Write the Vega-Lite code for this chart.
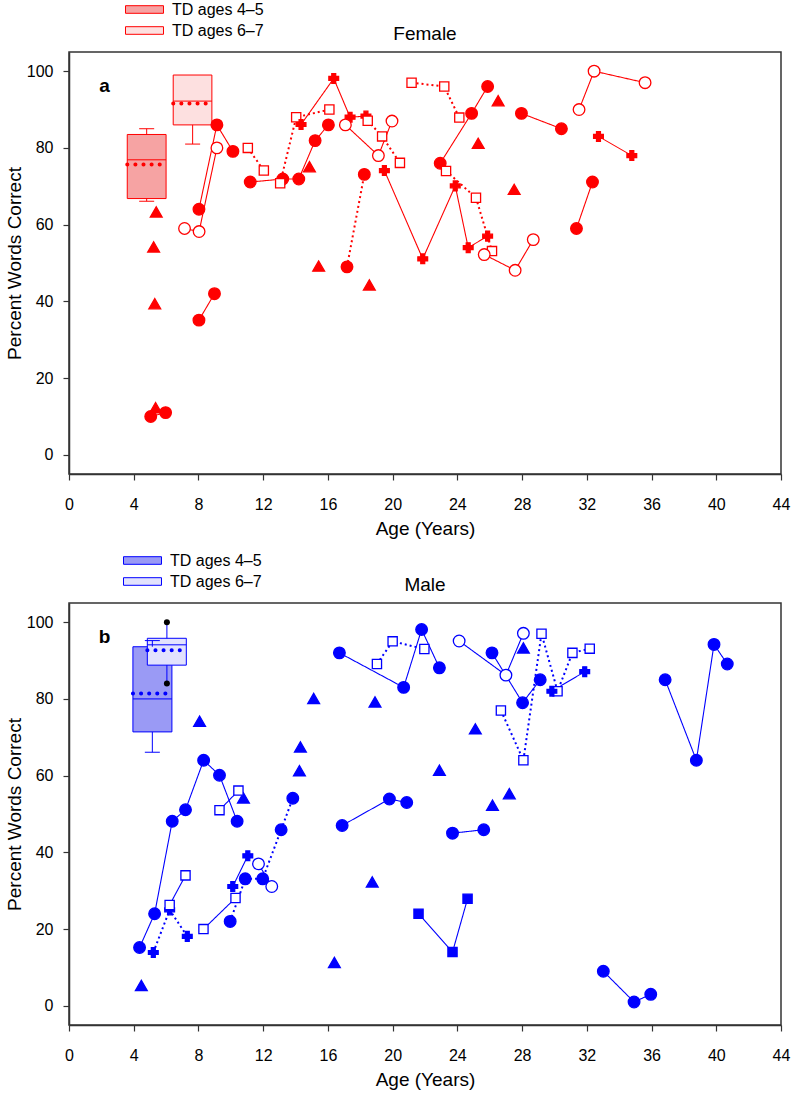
{
  "$schema": "https://vega.github.io/schema/vega-lite/v6.json",
  "padding": {"left": 4, "top": 0, "right": 8, "bottom": 0},
  "spacing": 12,
  "config": {
    "font": "Liberation Sans",
    "view": {"stroke": "#333333", "strokeWidth": 1.5},
    "axis": {"domainColor": "#333333", "domainWidth": 1.5, "tickColor": "#333333", "tickWidth": 1.2, "tickSize": 6, "labelFont": "Liberation Sans", "labelFontSize": 16, "labelColor": "#000000", "titleFont": "Liberation Sans", "titleFontSize": 19, "titleFontWeight": "normal", "titleColor": "#000000", "grid": false},
    "title": {"font": "Liberation Sans", "fontSize": 19, "fontWeight": "normal", "anchor": "middle", "offset": -43, "color": "#000000"}
  },
  "resolve": {"scale": {"fill": "independent", "x": "independent", "y": "independent", "shape": "independent", "strokeDash": "independent"}, "legend": {"fill": "independent"}},
  "datasets": {
    "box": [
      {"p": "F", "g": "TD ages 4–5", "x0": 3.6, "x1": 6.0, "q1": 66.8, "q3": 83.5, "med": 76.9, "mean": 75.7},
      {"p": "F", "g": "TD ages 6–7", "x0": 6.44, "x1": 8.83, "q1": 86, "q3": 99, "med": 92.2, "mean": 91.6},
      {"p": "M", "g": "TD ages 4–5", "x0": 3.95, "x1": 6.36, "q1": 71.4, "q3": 93.6, "med": 80, "mean": 81.4},
      {"p": "M", "g": "TD ages 6–7", "x0": 4.84, "x1": 7.25, "q1": 88.8, "q3": 95.8, "med": 94.1, "mean": 92.7}
    ],
    "whisk": [
      {"p": "F", "xc": 4.8, "y0": 83.5, "y1": 85},
      {"p": "F", "xc": 4.8, "y0": 66.8, "y1": 66.1},
      {"p": "F", "xc": 7.64, "y0": 86, "y1": 81},
      {"p": "M", "xc": 5.15, "y0": 93.6, "y1": 95.2},
      {"p": "M", "xc": 5.15, "y0": 71.4, "y1": 66.1},
      {"p": "M", "xc": 6.05, "y0": 95.8, "y1": 100},
      {"p": "M", "xc": 6.05, "y0": 88.8, "y1": 84}
    ],
    "caps": [
      {"p": "F", "xc": 4.8, "y": 85},
      {"p": "F", "xc": 4.8, "y": 66.1},
      {"p": "F", "xc": 7.64, "y": 81},
      {"p": "M", "xc": 5.15, "y": 95.2},
      {"p": "M", "xc": 5.15, "y": 66.1}
    ],
    "outl": [
      {"p": "M", "x": 6.05, "y": 100},
      {"p": "M", "x": 6.05, "y": 84}
    ],
    "pts": [
      {"p": "F", "s": null, "x": 5.39, "y": 63.3, "shape": "triangle-up", "fill": "filled", "link": "none"},
      {"p": "F", "s": null, "x": 5.23, "y": 54.2, "shape": "triangle-up", "fill": "filled", "link": "none"},
      {"p": "F", "s": null, "x": 5.3, "y": 39.4, "shape": "triangle-up", "fill": "filled", "link": "none"},
      {"p": "F", "s": null, "x": 5.35, "y": 12.3, "shape": "triangle-up", "fill": "filled", "link": "none"},
      {"p": "F", "s": null, "x": 14.86, "y": 75.1, "shape": "triangle-up", "fill": "filled", "link": "none"},
      {"p": "F", "s": null, "x": 15.43, "y": 49.2, "shape": "triangle-up", "fill": "filled", "link": "none"},
      {"p": "F", "s": null, "x": 18.56, "y": 44.3, "shape": "triangle-up", "fill": "filled", "link": "none"},
      {"p": "F", "s": null, "x": 25.29, "y": 81.2, "shape": "triangle-up", "fill": "filled", "link": "none"},
      {"p": "F", "s": null, "x": 26.52, "y": 92.3, "shape": "triangle-up", "fill": "filled", "link": "none"},
      {"p": "F", "s": null, "x": 27.51, "y": 69.2, "shape": "triangle-up", "fill": "filled", "link": "none"},
      {"p": "F", "s": "f1", "x": 5.05, "y": 10, "shape": "circle", "fill": "filled", "link": "solid"},
      {"p": "F", "s": "f1", "x": 5.97, "y": 11, "shape": "circle", "fill": "filled", "link": "solid"},
      {"p": "F", "s": "f2", "x": 8.03, "y": 35.1, "shape": "circle", "fill": "filled", "link": "solid"},
      {"p": "F", "s": "f2", "x": 8.99, "y": 42, "shape": "circle", "fill": "filled", "link": "solid"},
      {"p": "F", "s": "f3", "x": 8.03, "y": 64, "shape": "circle", "fill": "filled", "link": "solid"},
      {"p": "F", "s": "f3", "x": 9.14, "y": 86, "shape": "circle", "fill": "filled", "link": "solid"},
      {"p": "F", "s": "f3", "x": 10.13, "y": 79.1, "shape": "circle", "fill": "filled", "link": "solid"},
      {"p": "F", "s": "f4", "x": 7.14, "y": 59, "shape": "circle", "fill": "open", "link": "solid"},
      {"p": "F", "s": "f4", "x": 8.04, "y": 58.2, "shape": "circle", "fill": "open", "link": "solid"},
      {"p": "F", "s": "f4", "x": 9.14, "y": 80, "shape": "circle", "fill": "open", "link": "solid"},
      {"p": "F", "s": "f5", "x": 11.05, "y": 80, "shape": "square", "fill": "open", "link": "dotted"},
      {"p": "F", "s": "f5", "x": 12.04, "y": 74.1, "shape": "square", "fill": "open", "link": "dotted"},
      {"p": "F", "s": "f6", "x": 11.2, "y": 71.1, "shape": "circle", "fill": "filled", "link": "solid"},
      {"p": "F", "s": "f6", "x": 13.21, "y": 71.9, "shape": "circle", "fill": "filled", "link": "solid"},
      {"p": "F", "s": "f6", "x": 14.2, "y": 71.9, "shape": "circle", "fill": "filled", "link": "solid"},
      {"p": "F", "s": "f6", "x": 15.21, "y": 81.9, "shape": "circle", "fill": "filled", "link": "solid"},
      {"p": "F", "s": "f6", "x": 16.03, "y": 86, "shape": "circle", "fill": "filled", "link": "solid"},
      {"p": "F", "s": "f7", "x": 13.05, "y": 70.8, "shape": "square", "fill": "open", "link": "dotted"},
      {"p": "F", "s": "f7", "x": 14.04, "y": 88, "shape": "square", "fill": "open", "link": "dotted"},
      {"p": "F", "s": "f7", "x": 16.09, "y": 90, "shape": "square", "fill": "open", "link": "dotted"},
      {"p": "F", "s": "f8", "x": 14.34, "y": 86.1, "shape": "cross", "fill": "filled", "link": "solid"},
      {"p": "F", "s": "f8", "x": 16.36, "y": 98.1, "shape": "cross", "fill": "filled", "link": "solid"},
      {"p": "F", "s": "f8", "x": 17.37, "y": 88, "shape": "cross", "fill": "filled", "link": "solid"},
      {"p": "F", "s": "f8", "x": 18.35, "y": 88.3, "shape": "cross", "fill": "filled", "link": "solid"},
      {"p": "F", "s": "f9", "x": 17.08, "y": 86, "shape": "circle", "fill": "open", "link": "solid"},
      {"p": "F", "s": "f9", "x": 19.12, "y": 78, "shape": "circle", "fill": "open", "link": "solid"},
      {"p": "F", "s": "f9", "x": 19.96, "y": 87, "shape": "circle", "fill": "open", "link": "solid"},
      {"p": "F", "s": "f10", "x": 18.46, "y": 87.1, "shape": "square", "fill": "open", "link": "dotted"},
      {"p": "F", "s": "f10", "x": 19.35, "y": 83, "shape": "square", "fill": "open", "link": "dotted"},
      {"p": "F", "s": "f10", "x": 20.45, "y": 76.1, "shape": "square", "fill": "open", "link": "dotted"},
      {"p": "F", "s": "f11", "x": 17.18, "y": 49, "shape": "circle", "fill": "filled", "link": "dotted"},
      {"p": "F", "s": "f11", "x": 18.25, "y": 73.1, "shape": "circle", "fill": "filled", "link": "dotted"},
      {"p": "F", "s": "f12", "x": 19.49, "y": 74.1, "shape": "cross", "fill": "filled", "link": "solid"},
      {"p": "F", "s": "f12", "x": 21.86, "y": 51.1, "shape": "cross", "fill": "filled", "link": "solid"},
      {"p": "F", "s": "f12", "x": 23.87, "y": 70.1, "shape": "cross", "fill": "filled", "link": "solid"},
      {"p": "F", "s": "f12", "x": 24.67, "y": 54, "shape": "cross", "fill": "filled", "link": "solid"},
      {"p": "F", "s": "f12", "x": 25.87, "y": 57, "shape": "cross", "fill": "filled", "link": "solid"},
      {"p": "F", "s": "f13", "x": 21.17, "y": 97, "shape": "square", "fill": "open", "link": "dotted"},
      {"p": "F", "s": "f13", "x": 23.19, "y": 96, "shape": "square", "fill": "open", "link": "dotted"},
      {"p": "F", "s": "f13", "x": 24.12, "y": 87.9, "shape": "square", "fill": "open", "link": "dotted"},
      {"p": "F", "s": "f14", "x": 22.94, "y": 76, "shape": "circle", "fill": "filled", "link": "solid"},
      {"p": "F", "s": "f14", "x": 24.88, "y": 89, "shape": "circle", "fill": "filled", "link": "solid"},
      {"p": "F", "s": "f14", "x": 25.87, "y": 96, "shape": "circle", "fill": "filled", "link": "solid"},
      {"p": "F", "s": "f15", "x": 23.3, "y": 74, "shape": "square", "fill": "open", "link": "dotted"},
      {"p": "F", "s": "f15", "x": 25.15, "y": 67, "shape": "square", "fill": "open", "link": "dotted"},
      {"p": "F", "s": "f15", "x": 26.14, "y": 53.1, "shape": "square", "fill": "open", "link": "dotted"},
      {"p": "F", "s": "f16", "x": 25.66, "y": 52.2, "shape": "circle", "fill": "open", "link": "solid"},
      {"p": "F", "s": "f16", "x": 27.57, "y": 48.1, "shape": "circle", "fill": "open", "link": "solid"},
      {"p": "F", "s": "f16", "x": 28.69, "y": 56.1, "shape": "circle", "fill": "open", "link": "solid"},
      {"p": "F", "s": "f17", "x": 27.96, "y": 89, "shape": "circle", "fill": "filled", "link": "solid"},
      {"p": "F", "s": "f17", "x": 30.43, "y": 85, "shape": "circle", "fill": "filled", "link": "solid"},
      {"p": "F", "s": "f18", "x": 31.36, "y": 59, "shape": "circle", "fill": "filled", "link": "solid"},
      {"p": "F", "s": "f18", "x": 32.35, "y": 71.1, "shape": "circle", "fill": "filled", "link": "solid"},
      {"p": "F", "s": "f19", "x": 31.52, "y": 90, "shape": "circle", "fill": "open", "link": "solid"},
      {"p": "F", "s": "f19", "x": 32.45, "y": 100, "shape": "circle", "fill": "open", "link": "solid"},
      {"p": "F", "s": "f19", "x": 35.6, "y": 97, "shape": "circle", "fill": "open", "link": "solid"},
      {"p": "F", "s": "f20", "x": 32.72, "y": 83, "shape": "cross", "fill": "filled", "link": "solid"},
      {"p": "F", "s": "f20", "x": 34.78, "y": 78, "shape": "cross", "fill": "filled", "link": "solid"},

      {"p": "M", "s": null, "x": 4.47, "y": 5.3, "shape": "triangle-up", "fill": "filled", "link": "none"},
      {"p": "M", "s": null, "x": 8.07, "y": 74.2, "shape": "triangle-up", "fill": "filled", "link": "none"},
      {"p": "M", "s": null, "x": 10.78, "y": 54.2, "shape": "triangle-up", "fill": "filled", "link": "none"},
      {"p": "M", "s": null, "x": 14.24, "y": 61.3, "shape": "triangle-up", "fill": "filled", "link": "none"},
      {"p": "M", "s": null, "x": 14.3, "y": 67.5, "shape": "triangle-up", "fill": "filled", "link": "none"},
      {"p": "M", "s": null, "x": 15.12, "y": 80.1, "shape": "triangle-up", "fill": "filled", "link": "none"},
      {"p": "M", "s": null, "x": 16.4, "y": 11.3, "shape": "triangle-up", "fill": "filled", "link": "none"},
      {"p": "M", "s": null, "x": 18.74, "y": 32.3, "shape": "triangle-up", "fill": "filled", "link": "none"},
      {"p": "M", "s": null, "x": 18.91, "y": 79.2, "shape": "triangle-up", "fill": "filled", "link": "none"},
      {"p": "M", "s": null, "x": 22.89, "y": 61.4, "shape": "triangle-up", "fill": "filled", "link": "none"},
      {"p": "M", "s": null, "x": 25.11, "y": 72.2, "shape": "triangle-up", "fill": "filled", "link": "none"},
      {"p": "M", "s": null, "x": 26.17, "y": 52.3, "shape": "triangle-up", "fill": "filled", "link": "none"},
      {"p": "M", "s": null, "x": 27.21, "y": 55.3, "shape": "triangle-up", "fill": "filled", "link": "none"},
      {"p": "M", "s": null, "x": 28.08, "y": 93.3, "shape": "triangle-up", "fill": "filled", "link": "none"},
      {"p": "M", "s": "m1", "x": 4.36, "y": 15.2, "shape": "circle", "fill": "filled", "link": "solid"},
      {"p": "M", "s": "m1", "x": 5.29, "y": 24, "shape": "circle", "fill": "filled", "link": "solid"},
      {"p": "M", "s": "m1", "x": 6.38, "y": 48.1, "shape": "circle", "fill": "filled", "link": "solid"},
      {"p": "M", "s": "m1", "x": 7.2, "y": 51.1, "shape": "circle", "fill": "filled", "link": "solid"},
      {"p": "M", "s": "m1", "x": 8.32, "y": 64, "shape": "circle", "fill": "filled", "link": "solid"},
      {"p": "M", "s": "m1", "x": 9.3, "y": 60.1, "shape": "circle", "fill": "filled", "link": "solid"},
      {"p": "M", "s": "m1", "x": 10.39, "y": 48.1, "shape": "circle", "fill": "filled", "link": "solid"},
      {"p": "M", "s": "m2", "x": 5.21, "y": 13.9, "shape": "cross", "fill": "filled", "link": "dotted"},
      {"p": "M", "s": "m2", "x": 6.22, "y": 25, "shape": "cross", "fill": "filled", "link": "dotted"},
      {"p": "M", "s": "m2", "x": 7.31, "y": 18.1, "shape": "cross", "fill": "filled", "link": "dotted"},
      {"p": "M", "s": "m3", "x": 6.22, "y": 26.3, "shape": "square", "fill": "open", "link": "solid"},
      {"p": "M", "s": "m3", "x": 7.2, "y": 34, "shape": "square", "fill": "open", "link": "solid"},
      {"p": "M", "s": "m4", "x": 8.31, "y": 20, "shape": "square", "fill": "open", "link": "solid"},
      {"p": "M", "s": "m4", "x": 10.29, "y": 28.1, "shape": "square", "fill": "open", "link": "solid"},
      {"p": "M", "s": "m5", "x": 9.3, "y": 51, "shape": "square", "fill": "open", "link": "solid"},
      {"p": "M", "s": "m5", "x": 10.47, "y": 56.1, "shape": "square", "fill": "open", "link": "solid"},
      {"p": "M", "s": "m6", "x": 10.12, "y": 31.1, "shape": "cross", "fill": "filled", "link": "solid"},
      {"p": "M", "s": "m6", "x": 11.05, "y": 39.1, "shape": "cross", "fill": "filled", "link": "solid"},
      {"p": "M", "s": "m7", "x": 11.71, "y": 37, "shape": "circle", "fill": "open", "link": "solid"},
      {"p": "M", "s": "m7", "x": 12.53, "y": 31.1, "shape": "circle", "fill": "open", "link": "solid"},
      {"p": "M", "s": "m8", "x": 9.96, "y": 22, "shape": "circle", "fill": "filled", "link": "dotted"},
      {"p": "M", "s": "m8", "x": 10.89, "y": 33.1, "shape": "circle", "fill": "filled", "link": "dotted"},
      {"p": "M", "s": "m8", "x": 11.97, "y": 33.1, "shape": "circle", "fill": "filled", "link": "dotted"},
      {"p": "M", "s": "m8", "x": 13.11, "y": 45.9, "shape": "circle", "fill": "filled", "link": "dotted"},
      {"p": "M", "s": "m8", "x": 13.83, "y": 54.1, "shape": "circle", "fill": "filled", "link": "dotted"},
      {"p": "M", "s": "m9", "x": 16.71, "y": 92, "shape": "circle", "fill": "filled", "link": "solid"},
      {"p": "M", "s": "m9", "x": 20.68, "y": 83, "shape": "circle", "fill": "filled", "link": "solid"},
      {"p": "M", "s": "m9", "x": 21.79, "y": 98.1, "shape": "circle", "fill": "filled", "link": "solid"},
      {"p": "M", "s": "m9", "x": 22.89, "y": 88.1, "shape": "circle", "fill": "filled", "link": "solid"},
      {"p": "M", "s": "m10", "x": 19.03, "y": 89.1, "shape": "square", "fill": "open", "link": "dotted"},
      {"p": "M", "s": "m10", "x": 20.0, "y": 95, "shape": "square", "fill": "open", "link": "dotted"},
      {"p": "M", "s": "m10", "x": 21.96, "y": 93, "shape": "square", "fill": "open", "link": "dotted"},
      {"p": "M", "s": "m11", "x": 16.88, "y": 47, "shape": "circle", "fill": "filled", "link": "solid"},
      {"p": "M", "s": "m11", "x": 19.8, "y": 53.9, "shape": "circle", "fill": "filled", "link": "solid"},
      {"p": "M", "s": "m11", "x": 20.87, "y": 53, "shape": "circle", "fill": "filled", "link": "solid"},
      {"p": "M", "s": "m12", "x": 21.6, "y": 24, "shape": "square", "fill": "filled", "link": "solid"},
      {"p": "M", "s": "m12", "x": 23.7, "y": 14, "shape": "square", "fill": "filled", "link": "solid"},
      {"p": "M", "s": "m12", "x": 24.63, "y": 27.9, "shape": "square", "fill": "filled", "link": "solid"},
      {"p": "M", "s": "m13", "x": 23.7, "y": 45, "shape": "circle", "fill": "filled", "link": "solid"},
      {"p": "M", "s": "m13", "x": 25.63, "y": 45.9, "shape": "circle", "fill": "filled", "link": "solid"},
      {"p": "M", "s": "m14", "x": 24.11, "y": 95.1, "shape": "circle", "fill": "open", "link": "solid"},
      {"p": "M", "s": "m14", "x": 27.0, "y": 86.2, "shape": "circle", "fill": "open", "link": "solid"},
      {"p": "M", "s": "m14", "x": 28.08, "y": 97.1, "shape": "circle", "fill": "open", "link": "solid"},
      {"p": "M", "s": "m15", "x": 26.14, "y": 92, "shape": "circle", "fill": "filled", "link": "solid"},
      {"p": "M", "s": "m15", "x": 28.03, "y": 79, "shape": "circle", "fill": "filled", "link": "solid"},
      {"p": "M", "s": "m15", "x": 29.12, "y": 85, "shape": "circle", "fill": "filled", "link": "solid"},
      {"p": "M", "s": "m16", "x": 26.69, "y": 77, "shape": "square", "fill": "open", "link": "dotted"},
      {"p": "M", "s": "m16", "x": 28.08, "y": 64, "shape": "square", "fill": "open", "link": "dotted"},
      {"p": "M", "s": "m16", "x": 29.2, "y": 97, "shape": "square", "fill": "open", "link": "dotted"},
      {"p": "M", "s": "m16", "x": 30.19, "y": 82, "shape": "square", "fill": "open", "link": "dotted"},
      {"p": "M", "s": "m16", "x": 31.11, "y": 92, "shape": "square", "fill": "open", "link": "dotted"},
      {"p": "M", "s": "m16", "x": 32.18, "y": 93.1, "shape": "square", "fill": "open", "link": "dotted"},
      {"p": "M", "s": "m17", "x": 29.84, "y": 82, "shape": "cross", "fill": "filled", "link": "solid"},
      {"p": "M", "s": "m17", "x": 31.87, "y": 87.1, "shape": "cross", "fill": "filled", "link": "solid"},
      {"p": "M", "s": "m18", "x": 33.02, "y": 9, "shape": "circle", "fill": "filled", "link": "solid"},
      {"p": "M", "s": "m18", "x": 34.92, "y": 1, "shape": "circle", "fill": "filled", "link": "solid"},
      {"p": "M", "s": "m18", "x": 35.95, "y": 3, "shape": "circle", "fill": "filled", "link": "solid"},
      {"p": "M", "s": "m19", "x": 36.84, "y": 85, "shape": "circle", "fill": "filled", "link": "solid"},
      {"p": "M", "s": "m19", "x": 38.77, "y": 64, "shape": "circle", "fill": "filled", "link": "solid"},
      {"p": "M", "s": "m19", "x": 39.86, "y": 94.2, "shape": "circle", "fill": "filled", "link": "solid"},
      {"p": "M", "s": "m19", "x": 40.68, "y": 89.1, "shape": "circle", "fill": "filled", "link": "solid"}
    ]
  },
  "vconcat": [
    {
      "width": 712, "height": 422,
      "title": "Female",
      "layer": [
        {
          "data": {"name": "box"}, "transform": [{"filter": "datum.p == 'F'"}],
          "mark": {"type": "rect", "stroke": "#ff0000", "strokeWidth": 1},
          "encoding": {
            "x": {"field": "x0", "type": "quantitative", "scale": {"domain": [0, 44], "nice": false, "zero": false}, "axis": {"title": "Age (Years)", "values": [0, 2, 4, 6, 8, 10, 12, 14, 16, 18, 20, 22, 24, 26, 28, 30, 32, 34, 36, 38, 40, 42, 44], "labelExpr": "datum.value % 4 == 0 ? datum.label : ''", "labelPadding": 16, "titlePadding": 7, "labelFlush": false, "labelOverlap": false}},
            "x2": {"field": "x1"},
            "y": {"field": "q1", "type": "quantitative", "scale": {"domain": [-5, 105], "nice": false, "zero": false}, "axis": {"title": "Percent Words Correct", "values": [0, 20, 40, 60, 80, 100], "labelPadding": 10, "titlePadding": 2}},
            "y2": {"field": "q3"},
            "fill": {"field": "g", "type": "nominal", "scale": {"domain": ["TD ages 4–5", "TD ages 6–7"], "range": ["#f6a3a3", "#fde0e0"]},
              "legend": {"orient": "none", "legendX": 67, "legendY": -51, "title": null, "padding": 0, "symbolType": "M-2.5,-0.5H2.5V0.5H-2.5Z", "symbolSize": 231, "symbolStrokeColor": "#ff0000", "symbolStrokeWidth": 1, "symbolOpacity": 1, "labelFont": "Liberation Sans", "labelFontSize": 16, "labelColor": "#000000", "labelOffset": 19, "rowPadding": 4}}
          }
        },
        {
          "data": {"name": "box"}, "transform": [{"filter": "datum.p == 'F'"}],
          "mark": {"type": "rule", "color": "#ff0000", "strokeWidth": 1},
          "encoding": {"x": {"field": "x0", "type": "quantitative"}, "x2": {"field": "x1"}, "y": {"field": "med", "type": "quantitative"}}
        },
        {
          "data": {"name": "whisk"}, "transform": [{"filter": "datum.p == 'F'"}],
          "mark": {"type": "rule", "color": "#ff0000", "strokeWidth": 1},
          "encoding": {"x": {"field": "xc", "type": "quantitative"}, "y": {"field": "y0", "type": "quantitative"}, "y2": {"field": "y1"}}
        },
        {
          "data": {"name": "caps"}, "transform": [{"filter": "datum.p == 'F'"}],
          "mark": {"type": "tick", "orient": "horizontal", "color": "#ff0000", "size": 15, "thickness": 1, "opacity": 1},
          "encoding": {"x": {"field": "xc", "type": "quantitative"}, "y": {"field": "y", "type": "quantitative"}}
        },
        {
          "data": {"name": "box"}, "transform": [{"filter": "datum.p == 'F'"}],
          "mark": {"type": "rule", "color": "#ff0000", "strokeWidth": 4, "strokeCap": "round", "strokeDash": [0.1, 8]},
          "encoding": {"x": {"field": "x0", "type": "quantitative"}, "x2": {"field": "x1"}, "y": {"field": "mean", "type": "quantitative"}}
        },
        {
          "data": {"name": "pts"}, "transform": [{"filter": "datum.p == 'F' && datum.s != null"}],
          "mark": {"type": "line", "color": "#ff0000"},
          "encoding": {
            "x": {"field": "x", "type": "quantitative"}, "y": {"field": "y", "type": "quantitative"},
            "detail": {"field": "s", "type": "nominal"},
            "strokeDash": {"field": "link", "type": "nominal", "scale": {"domain": ["solid", "dotted"], "range": [[1, 0], [2, 3]]}, "legend": null},
            "strokeWidth": {"condition": {"test": "datum.link == 'dotted'", "value": 2}, "value": 1.1}
          }
        },
        {
          "data": {"name": "pts"}, "transform": [{"filter": "datum.p == 'F'"}],
          "mark": {"type": "point", "opacity": 1, "strokeWidth": 1.3},
          "encoding": {
            "x": {"field": "x", "type": "quantitative"}, "y": {"field": "y", "type": "quantitative"},
            "shape": {"field": "shape", "type": "nominal", "scale": {"domain": ["circle", "triangle-up", "cross", "square"], "range": ["circle", "triangle-up", "cross", "square"]}, "legend": null},
            "fill": {"condition": {"test": "datum.fill == 'filled'", "value": "#ff0000"}, "value": "#ffffff"},
            "stroke": {"value": "#ff0000"},
            "size": {"condition": [{"test": "datum.shape == 'circle'", "value": 135}, {"test": "datum.shape == 'triangle-up'", "value": 140}, {"test": "datum.shape == 'square'", "value": 85}], "value": 95}
          }
        },
        {
          "data": {"values": [{}]},
          "mark": {"type": "text", "text": "a", "fontSize": 19, "fontWeight": "bold", "font": "Liberation Sans", "align": "center", "baseline": "alphabetic", "color": "#000000"},
          "encoding": {"x": {"datum": 2.2}, "y": {"datum": 94.7}}
        }
      ]
    },
    {
      "width": 712, "height": 422,
      "title": "Male",
      "layer": [
        {
          "data": {"name": "box"}, "transform": [{"filter": "datum.p == 'M'"}],
          "mark": {"type": "rect", "stroke": "#0000ff", "strokeWidth": 1},
          "encoding": {
            "x": {"field": "x0", "type": "quantitative", "scale": {"domain": [0, 44], "nice": false, "zero": false}, "axis": {"title": "Age (Years)", "values": [0, 2, 4, 6, 8, 10, 12, 14, 16, 18, 20, 22, 24, 26, 28, 30, 32, 34, 36, 38, 40, 42, 44], "labelExpr": "datum.value % 4 == 0 ? datum.label : ''", "labelPadding": 16, "titlePadding": 7, "labelFlush": false, "labelOverlap": false}},
            "x2": {"field": "x1"},
            "y": {"field": "q1", "type": "quantitative", "scale": {"domain": [-5, 105], "nice": false, "zero": false}, "axis": {"title": "Percent Words Correct", "values": [0, 20, 40, 60, 80, 100], "labelPadding": 10, "titlePadding": 2}},
            "y2": {"field": "q3"},
            "fill": {"field": "g", "type": "nominal", "scale": {"domain": ["TD ages 4–5", "TD ages 6–7"], "range": ["#9a9af5", "#e2e2fd"]},
              "legend": {"orient": "none", "legendX": 65, "legendY": -51, "title": null, "padding": 0, "symbolType": "M-2.5,-0.5H2.5V0.5H-2.5Z", "symbolSize": 231, "symbolStrokeColor": "#0000ff", "symbolStrokeWidth": 1, "symbolOpacity": 1, "labelFont": "Liberation Sans", "labelFontSize": 16, "labelColor": "#000000", "labelOffset": 19, "rowPadding": 4}}
          }
        },
        {
          "data": {"name": "box"}, "transform": [{"filter": "datum.p == 'M'"}],
          "mark": {"type": "rule", "color": "#0000ff", "strokeWidth": 1},
          "encoding": {"x": {"field": "x0", "type": "quantitative"}, "x2": {"field": "x1"}, "y": {"field": "med", "type": "quantitative"}}
        },
        {
          "data": {"name": "whisk"}, "transform": [{"filter": "datum.p == 'M'"}],
          "mark": {"type": "rule", "color": "#0000ff", "strokeWidth": 1},
          "encoding": {"x": {"field": "xc", "type": "quantitative"}, "y": {"field": "y0", "type": "quantitative"}, "y2": {"field": "y1"}}
        },
        {
          "data": {"name": "caps"}, "transform": [{"filter": "datum.p == 'M'"}],
          "mark": {"type": "tick", "orient": "horizontal", "color": "#0000ff", "size": 15, "thickness": 1, "opacity": 1},
          "encoding": {"x": {"field": "xc", "type": "quantitative"}, "y": {"field": "y", "type": "quantitative"}}
        },
        {
          "data": {"name": "box"}, "transform": [{"filter": "datum.p == 'M'"}],
          "mark": {"type": "rule", "color": "#0000ff", "strokeWidth": 4, "strokeCap": "round", "strokeDash": [0.1, 8]},
          "encoding": {"x": {"field": "x0", "type": "quantitative"}, "x2": {"field": "x1"}, "y": {"field": "mean", "type": "quantitative"}}
        },
        {
          "data": {"name": "outl"}, "transform": [{"filter": "datum.p == 'M'"}],
          "mark": {"type": "point", "filled": true, "opacity": 1, "color": "#000000", "size": 36, "shape": "circle"},
          "encoding": {"x": {"field": "x", "type": "quantitative"}, "y": {"field": "y", "type": "quantitative"}}
        },
        {
          "data": {"name": "pts"}, "transform": [{"filter": "datum.p == 'M' && datum.s != null"}],
          "mark": {"type": "line", "color": "#0000ff"},
          "encoding": {
            "x": {"field": "x", "type": "quantitative"}, "y": {"field": "y", "type": "quantitative"},
            "detail": {"field": "s", "type": "nominal"},
            "strokeDash": {"field": "link", "type": "nominal", "scale": {"domain": ["solid", "dotted"], "range": [[1, 0], [2, 3]]}, "legend": null},
            "strokeWidth": {"condition": {"test": "datum.link == 'dotted'", "value": 2}, "value": 1.1}
          }
        },
        {
          "data": {"name": "pts"}, "transform": [{"filter": "datum.p == 'M'"}],
          "mark": {"type": "point", "opacity": 1, "strokeWidth": 1.3},
          "encoding": {
            "x": {"field": "x", "type": "quantitative"}, "y": {"field": "y", "type": "quantitative"},
            "shape": {"field": "shape", "type": "nominal", "scale": {"domain": ["circle", "triangle-up", "cross", "square"], "range": ["circle", "triangle-up", "cross", "square"]}, "legend": null},
            "fill": {"condition": {"test": "datum.fill == 'filled'", "value": "#0000ff"}, "value": "#ffffff"},
            "stroke": {"value": "#0000ff"},
            "size": {"condition": [{"test": "datum.shape == 'circle'", "value": 135}, {"test": "datum.shape == 'triangle-up'", "value": 140}, {"test": "datum.shape == 'square'", "value": 85}], "value": 95}
          }
        },
        {
          "data": {"values": [{}]},
          "mark": {"type": "text", "text": "b", "fontSize": 19, "fontWeight": "bold", "font": "Liberation Sans", "align": "center", "baseline": "alphabetic", "color": "#000000"},
          "encoding": {"x": {"datum": 2.2}, "y": {"datum": 94.7}}
        }
      ]
    }
  ]
}
